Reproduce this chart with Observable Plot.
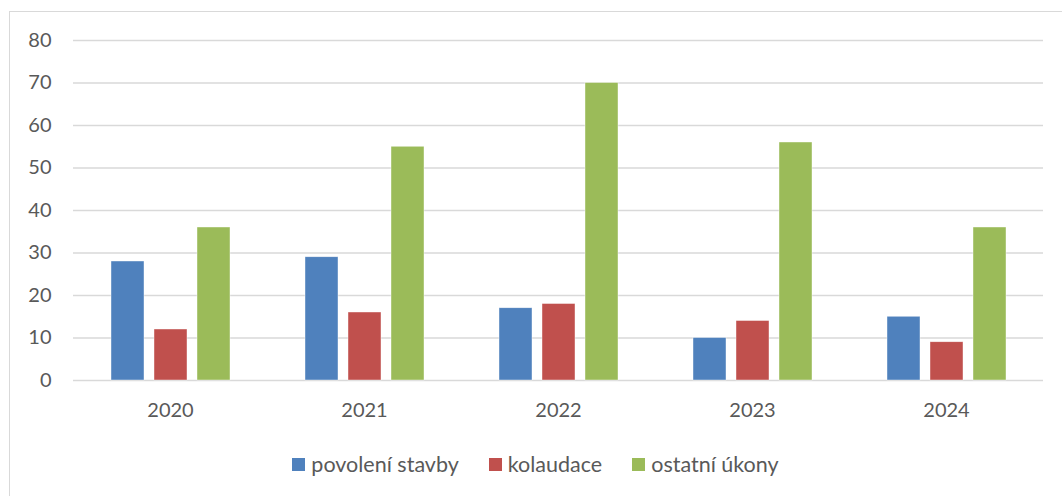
<!DOCTYPE html>
<html>
<head>
<meta charset="utf-8">
<script src="https://cdn.jsdelivr.net/npm/d3@7"></script>
<script src="https://cdn.jsdelivr.net/npm/@observablehq/plot@0.6"></script>
<style>
  html, body { margin: 0; padding: 0; background: #fff; }
  body { width: 1062px; height: 496px; position: relative; overflow: hidden; font-family: Lato, "Open Sans", sans-serif; }
  #frame { position: absolute; left: 9px; top: 11px; width: 1100px; height: 520px; border: 1px solid #d9d9d9; box-sizing: border-box; }
  #chart { position: absolute; left: 0; top: 0; }
  #legend { position: absolute; left: 0; top: 451px; width: 1071px; display: flex; justify-content: center; align-items: center; font-size: 21.5px; color: #595959; }
  .item { display: flex; align-items: center; margin: 0 15px; }
  .sw { width: 13px; height: 13px; margin-right: 6px; }
</style>
</head>
<body>
<div id="frame"></div>
<div id="chart"></div>
<div id="legend"></div>
<script>
const years = ["2020", "2021", "2022", "2023", "2024"];
const seriesNames = ["povolení stavby", "kolaudace", "ostatní úkony"];
const povoleniStavby = [28, 29, 17, 10, 15];
const kolaudace = [12, 16, 18, 14, 9];
const ostatniUkony = [36, 55, 70, 56, 36];
const colors = ["#4F81BD", "#C0504D", "#9BBB59"];
const yTicks = [0, 10, 20, 30, 40, 50, 60, 70, 80];

const seriesValues = [povoleniStavby, kolaudace, ostatniUkony];
const data = [];
years.forEach((y, i) => {
  seriesNames.forEach((s, j) => {
    data.push({year: y, series: s, value: seriesValues[j][i]});
  });
});

const chart = Plot.plot({
  width: 1062,
  height: 430,
  marginTop: 40,
  marginBottom: 50,
  marginLeft: 72,
  marginRight: 18,
  style: {fontFamily: "Lato, 'Open Sans', sans-serif", fontSize: "20px", color: "#595959", background: "transparent"},
  fx: {domain: years, padding: 0, label: null, tickSize: 0, tickPadding: 22, axis: "bottom"},
  x: {domain: seriesNames, axis: null, paddingInner: 0.233, paddingOuter: 0.84},
  y: {domain: [0, 80], ticks: yTicks, tickSize: 0, tickPadding: 22, label: null},
  color: {domain: seriesNames, range: colors},
  marks: [
    Plot.ruleY(yTicks, {stroke: "#d9d9d9", strokeWidth: 1.5}),
    Plot.barY(data, {fx: "year", x: "series", y: "value", fill: "series", stroke: "#ffffff", strokeWidth: 0.6, strokeOpacity: 0.7})
  ]
});
document.getElementById("chart").appendChild(chart);

const legend = document.getElementById("legend");
seriesNames.forEach((s, i) => {
  const item = document.createElement("div");
  item.className = "item";
  const sw = document.createElement("div");
  sw.className = "sw";
  sw.style.background = colors[i];
  const t = document.createElement("span");
  t.textContent = s;
  item.appendChild(sw);
  item.appendChild(t);
  legend.appendChild(item);
});
</script>
</body>
</html>
